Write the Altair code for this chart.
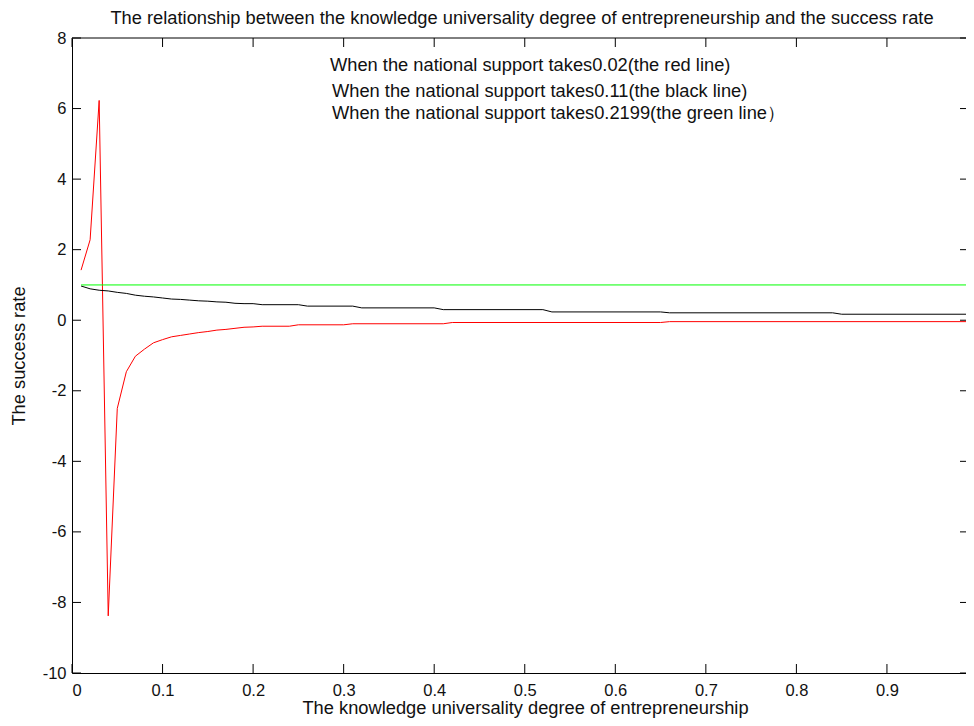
import altair as alt
import pandas as pd

W, H = 894, 635
XMAX = 894 / 905.5
FONT = "Liberation Sans"

# ---- data ----
red_x = [0.01, 0.02, 0.03, 0.04, 0.05, 0.06, 0.07, 0.08, 0.09, 0.10, 0.11, 0.12, 0.13,
         0.14, 0.15, 0.16, 0.17, 0.18, 0.19, 0.20, 0.21, 0.24, 0.25, 0.30, 0.31, 0.41,
         0.42, 0.65, 0.66, 0.99]
red_y = [1.42, 2.28, 6.23, -8.38, -2.5, -1.46, -1.02, -0.82, -0.64, -0.55, -0.47, -0.43, -0.39,
         -0.35, -0.32, -0.28, -0.26, -0.23, -0.20, -0.19, -0.17, -0.17, -0.13, -0.13, -0.10, -0.10,
         -0.065, -0.065, -0.04, -0.04]

black_x = [0.01, 0.02, 0.03, 0.04, 0.05, 0.06, 0.07, 0.08, 0.09, 0.10, 0.11, 0.12, 0.13,
           0.14, 0.15, 0.16, 0.17, 0.18, 0.19, 0.20, 0.21, 0.25, 0.26, 0.31, 0.32, 0.40,
           0.41, 0.52, 0.53, 0.65, 0.66, 0.84, 0.85, 0.99]
black_y = [0.97, 0.89, 0.85, 0.83, 0.79, 0.76, 0.71, 0.68, 0.66, 0.63, 0.60, 0.59, 0.57,
           0.55, 0.54, 0.52, 0.51, 0.48, 0.47, 0.47, 0.44, 0.44, 0.40, 0.40, 0.35, 0.35,
           0.30, 0.30, 0.235, 0.235, 0.21, 0.21, 0.17, 0.17]

green_x = [0.01, 0.99]
green_y = [1.0, 1.0]

x_ticks = [0, 0.1, 0.2, 0.3, 0.4, 0.5, 0.6, 0.7, 0.8, 0.9]
y_ticks = [-10, -8, -6, -4, -2, 0, 2, 4, 6, 8]

series_names = ["red", "black", "green"]
series_colors = ["#ff0000", "#000000", "#00ff00"]

notes = [
    "When the national support takes0.02(the red line)",
    "When the national support takes0.11(the black line)",
    "When the national support takes0.2199(the green line\uff09",
]

title_text = "The relationship between the knowledge universality degree of entrepreneurship and the success rate"
x_title = "The knowledge universality degree of entrepreneurship"
y_title = "The success rate"

# ---- build tables ----
rows = []
for name, xs, ys in [("red", red_x, red_y), ("black", black_x, black_y), ("green", green_x, green_y)]:
    for i, (a, b) in enumerate(zip(xs, ys)):
        rows.append({"x": a, "y": b, "s": name, "i": i})
df = pd.DataFrame(rows)

xscale = alt.Scale(domain=[0, XMAX], nice=False, zero=False)
yscale = alt.Scale(domain=[-10, 8], nice=False, zero=False)

x_axis = alt.Axis(values=x_ticks, title=x_title, labelExpr="'' + datum.value",
                  labelPadding=9, titleX=453, titleY=40.5, titleBaseline="alphabetic",
                  titleAlign="center")
y_axis = alt.Axis(values=y_ticks, title=y_title, labelExpr="'' + datum.value",
                  labelPadding=6, titleX=-53, titleY=H / 2, titleAngle=-90,
                  titleBaseline="middle", titleAlign="center")

lines = alt.Chart(df).mark_line(strokeWidth=1, clip=True).encode(
    x=alt.X("x:Q", scale=xscale, axis=x_axis),
    y=alt.Y("y:Q", scale=yscale, axis=y_axis),
    color=alt.Color("s:N", scale=alt.Scale(domain=series_names, range=series_colors), legend=None),
    order="i:Q",
)

tick_x_df = pd.DataFrame({"x": x_ticks})
tick_y_df = pd.DataFrame({"y": y_ticks})

xt_bottom = alt.Chart(tick_x_df).mark_rule(color="black", strokeWidth=1).encode(
    x=alt.X("x:Q", scale=xscale, axis=x_axis), y=alt.value(H), y2=alt.value(H - 9))
xt_top = alt.Chart(tick_x_df).mark_rule(color="black", strokeWidth=1).encode(
    x=alt.X("x:Q", scale=xscale, axis=x_axis), y=alt.value(0), y2=alt.value(9))
yt_left = alt.Chart(tick_y_df).mark_rule(color="black", strokeWidth=1).encode(
    y=alt.Y("y:Q", scale=yscale, axis=y_axis), x=alt.value(0), x2=alt.value(9))
yt_right = alt.Chart(tick_y_df).mark_rule(color="black", strokeWidth=1).encode(
    y=alt.Y("y:Q", scale=yscale, axis=y_axis), x=alt.value(W - 6), x2=alt.value(W))

top_border = alt.Chart(pd.DataFrame({"k": [0]})).mark_rule(color="black", strokeWidth=1).encode(
    x=alt.value(0), x2=alt.value(W), y=alt.value(0))

title_layer = alt.Chart(pd.DataFrame({"t": [title_text]})).mark_text(
    align="center", baseline="middle", font=FONT, fontSize=18.3, color="#111111"
).encode(text="t:N", x=alt.value(450), y=alt.value(-19))

note_layers = []
for t, yy, xx in zip(notes, [28, 53.5, 75.5], [258, 260, 260]):
    note_layers.append(
        alt.Chart(pd.DataFrame({"t": [t]})).mark_text(
            align="left", baseline="middle", font=FONT, fontSize=18.3, color="#111111"
        ).encode(text="t:N", x=alt.value(xx), y=alt.value(yy))
    )

chart = alt.layer(lines, xt_bottom, xt_top, yt_left, yt_right, top_border, title_layer,
                  *note_layers).properties(
    width=W,
    height=H,
    autosize=alt.AutoSizeParams(type="none"),
    padding={"left": 64, "top": 30, "right": 0, "bottom": 45},
).configure_view(
    strokeWidth=0
).configure_axis(
    grid=False, domain=True, domainColor="black", domainWidth=1, ticks=False, tickSize=0,
    labelFont=FONT, labelFontSize=16.5, labelColor="#111111",
    titleFont=FONT, titleFontSize=18.3, titleFontWeight="normal", titleColor="#111111",
)

chart.save("out.html", embed_options={"renderer": "svg", "actions": False})
